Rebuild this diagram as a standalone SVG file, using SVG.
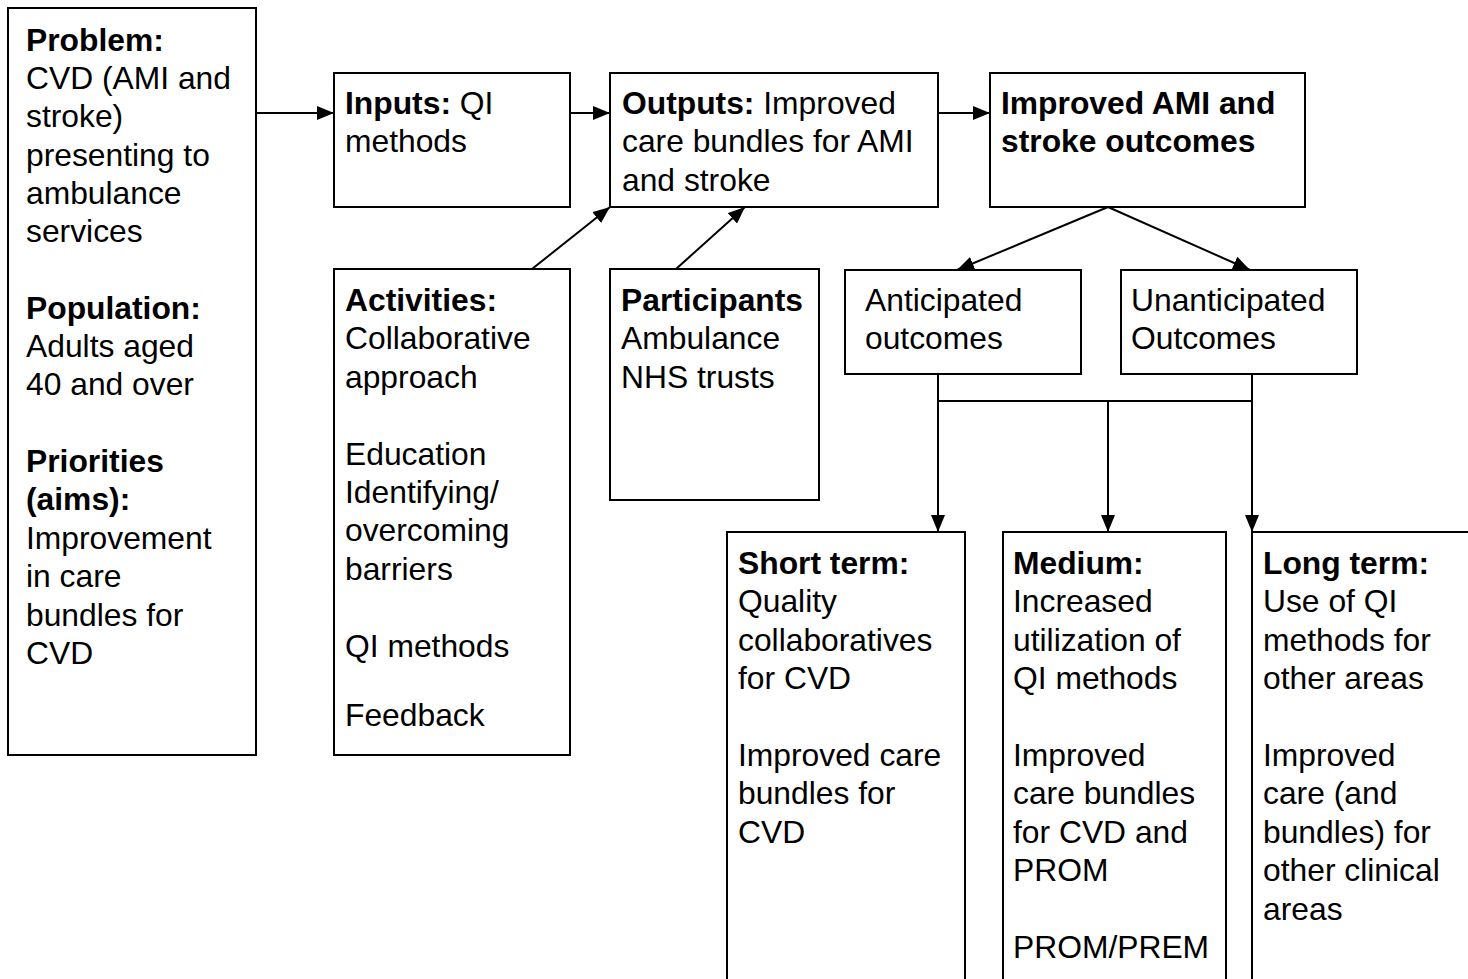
<svg xmlns="http://www.w3.org/2000/svg" width="1468" height="979" viewBox="0 0 1468 979">
<style>
.box{fill:#fff;stroke:#000;stroke-width:2}
.t{font-family:"Liberation Sans",Arial,sans-serif;font-size:31.8px;fill:#000}
.b{font-weight:bold}
.c{stroke:#000;stroke-width:2;fill:none}
</style>
<defs>
<marker id="ah" markerUnits="userSpaceOnUse" markerWidth="18" markerHeight="14" refX="17" refY="7" orient="auto">
<path d="M0,0 L17,7 L0,14 Z" fill="#000"/>
</marker>
</defs>
<rect width="1468" height="979" fill="#fff"/>
<g id="problem">
<rect class="box" x="8" y="8" width="248" height="747"/>
<text class="t" x="26"><tspan class="b" x="26" y="50.5">Problem:</tspan><tspan x="26" y="88.9">CVD (AMI and</tspan><tspan x="26" y="127.3">stroke)</tspan><tspan x="26" y="165.7">presenting to</tspan><tspan x="26" y="204.1">ambulance</tspan><tspan x="26" y="242">services</tspan><tspan class="b" x="26" y="318.5">Population:</tspan><tspan x="26" y="357">Adults aged</tspan><tspan x="26" y="395">40 and over</tspan><tspan class="b" x="26" y="472">Priorities</tspan><tspan class="b" x="26" y="510.4">(aims):</tspan><tspan x="26" y="548.8">Improvement</tspan><tspan x="26" y="587.2">in care</tspan><tspan x="26" y="625.6">bundles for</tspan><tspan x="26" y="664">CVD</tspan></text>
</g>
<g id="inputs">
<rect class="box" x="334" y="73" width="236" height="134"/>
<text class="t"><tspan class="b" x="345" y="114">Inputs:</tspan><tspan> QI</tspan><tspan x="345" y="152.4">methods</tspan></text>
</g>
<g id="outputs">
<rect class="box" x="610" y="73" width="328" height="134"/>
<text class="t"><tspan class="b" x="622" y="114">Outputs:</tspan><tspan> Improved</tspan><tspan x="622" y="152.4">care bundles for AMI</tspan><tspan x="622" y="190.8">and stroke</tspan></text>
</g>
<g id="improved">
<rect class="box" x="990" y="73" width="315" height="134"/>
<text class="t b"><tspan x="1001" y="114">Improved AMI and</tspan><tspan x="1001" y="152.4">stroke outcomes</tspan></text>
</g>
<g id="activities">
<rect class="box" x="334" y="269" width="236" height="486"/>
<text class="t"><tspan class="b" x="345" y="311">Activities:</tspan><tspan x="345" y="349.4">Collaborative</tspan><tspan x="345" y="387.8">approach</tspan><tspan x="345" y="464.6">Education</tspan><tspan x="345" y="503">Identifying/</tspan><tspan x="345" y="541.4">overcoming</tspan><tspan x="345" y="579.8">barriers</tspan><tspan x="345" y="657">QI methods</tspan><tspan x="345" y="726">Feedback</tspan></text>
</g>
<g id="participants">
<rect class="box" x="610" y="269" width="209" height="231"/>
<text class="t"><tspan class="b" x="621" y="311">Participants</tspan><tspan x="621" y="349.4">Ambulance</tspan><tspan x="621" y="387.8">NHS trusts</tspan></text>
</g>
<g id="anticipated">
<rect class="box" x="845" y="270" width="236" height="104"/>
<text class="t"><tspan x="865" y="311">Anticipated</tspan><tspan x="865" y="349.4">outcomes</tspan></text>
</g>
<g id="unanticipated">
<rect class="box" x="1121" y="270" width="236" height="104"/>
<text class="t"><tspan x="1131" y="311">Unanticipated</tspan><tspan x="1131" y="349.4">Outcomes</tspan></text>
</g>
<g id="short">
<rect class="box" x="727" y="532" width="238" height="470"/>
<text class="t"><tspan class="b" x="738" y="574">Short term:</tspan><tspan x="738" y="612.4">Quality</tspan><tspan x="738" y="650.8">collaboratives</tspan><tspan x="738" y="689.2">for CVD</tspan><tspan x="738" y="766">Improved care</tspan><tspan x="738" y="804.4">bundles for</tspan><tspan x="738" y="842.8">CVD</tspan></text>
</g>
<g id="medium">
<rect class="box" x="1003" y="532" width="223" height="470"/>
<text class="t"><tspan class="b" x="1013" y="574">Medium:</tspan><tspan x="1013" y="612.4">Increased</tspan><tspan x="1013" y="650.8">utilization of</tspan><tspan x="1013" y="689.2">QI methods</tspan><tspan x="1013" y="766">Improved</tspan><tspan x="1013" y="804.4">care bundles</tspan><tspan x="1013" y="842.8">for CVD and</tspan><tspan x="1013" y="881.2">PROM</tspan><tspan x="1013" y="958">PROM/PREM</tspan></text>
</g>
<g id="long">
<path class="c" d="M1252,1000 L1252,532 L1470,532"/>
<text class="t"><tspan class="b" x="1263" y="574">Long term:</tspan><tspan x="1263" y="612.4">Use of QI</tspan><tspan x="1263" y="650.8">methods for</tspan><tspan x="1263" y="689.2">other areas</tspan><tspan x="1263" y="766">Improved</tspan><tspan x="1263" y="804.4">care (and</tspan><tspan x="1263" y="842.8">bundles) for</tspan><tspan x="1263" y="881.2">other clinical</tspan><tspan x="1263" y="919.6">areas</tspan></text>
</g>
<g id="connectors">
<line class="c" x1="256" y1="113" x2="334" y2="113" marker-end="url(#ah)"/>
<line class="c" x1="570" y1="113" x2="610" y2="113" marker-end="url(#ah)"/>
<line class="c" x1="938" y1="113" x2="990" y2="113" marker-end="url(#ah)"/>
<line class="c" x1="532" y1="269" x2="610" y2="207" marker-end="url(#ah)"/>
<line class="c" x1="676" y1="269" x2="745" y2="207" marker-end="url(#ah)"/>
<line class="c" x1="1108" y1="207" x2="957" y2="270" marker-end="url(#ah)"/>
<line class="c" x1="1108" y1="207" x2="1250" y2="270" marker-end="url(#ah)"/>
<path class="c" d="M938,374 L938,401 L1252,401 L1252,374"/>
<line class="c" x1="938" y1="401" x2="938" y2="532" marker-end="url(#ah)"/>
<line class="c" x1="1108" y1="401" x2="1108" y2="532" marker-end="url(#ah)"/>
<line class="c" x1="1252" y1="401" x2="1252" y2="532" marker-end="url(#ah)"/>
</g>
</svg>
